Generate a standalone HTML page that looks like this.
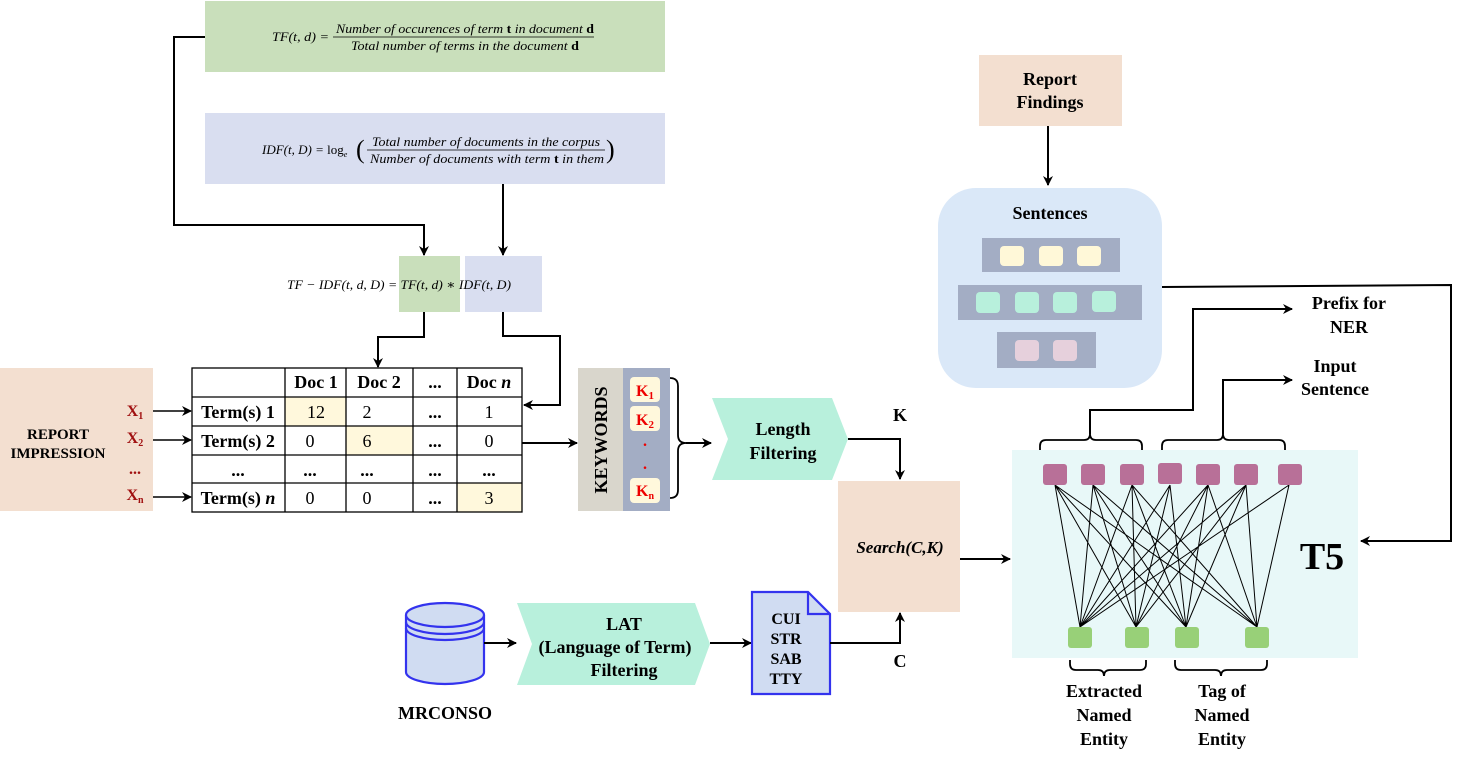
<!DOCTYPE html>
<html><head><meta charset="utf-8"><style>
body{margin:0;background:#fff}
svg text{font-family:"Liberation Serif","Times New Roman","DejaVu Serif",serif}
.b{font-weight:bold}
.i{font-style:italic}
</style></head><body>
<svg width="1462" height="752" viewBox="0 0 1462 752" xmlns="http://www.w3.org/2000/svg" font-family="Liberation Serif, serif">
<defs>
<marker id="a" markerWidth="10" markerHeight="10" refX="9" refY="5" orient="auto" markerUnits="userSpaceOnUse"><path d="M0,0 L10,5 L0,10 L3,5 z" fill="#000"/></marker>
</defs>
<g stroke="#000" stroke-width="2" fill="none">
<rect x="205" y="1" width="460" height="71" fill="#c9dfbb" stroke="none"/>
<rect x="205" y="113" width="460" height="71" fill="#d9def0" stroke="none"/>
<rect x="399" y="256" width="61" height="56" fill="#c9dfbb" stroke="none"/>
<rect x="465" y="256" width="77" height="56" fill="#d9def0" stroke="none"/>
<polyline points="205,37 174,37 174,225 424,225 424,255" marker-end="url(#a)"/>
<polyline points="503,184 503,255" marker-end="url(#a)"/>
<polyline points="424,312 424,337 378,337 378,367" marker-end="url(#a)"/>
<polyline points="503,312 503,336 560,336 560,405 524,405" marker-end="url(#a)"/>
<rect x="0" y="368" width="153" height="143" fill="#f3dfd0" stroke="none"/>
<line x1="153" y1="411" x2="191" y2="411" stroke-width="1.5" marker-end="url(#a)"/>
<line x1="153" y1="440" x2="191" y2="440" stroke-width="1.5" marker-end="url(#a)"/>
<line x1="153" y1="497" x2="191" y2="497" stroke-width="1.5" marker-end="url(#a)"/>
<rect x="285" y="397" width="61" height="29" fill="#fff8dc" stroke="none"/>
<rect x="346" y="426" width="67" height="29" fill="#fff8dc" stroke="none"/>
<rect x="457" y="483" width="65" height="29" fill="#fff8dc" stroke="none"/>
<g stroke-width="1.3">
<rect x="192" y="368" width="330" height="144"/>
<line x1="192" y1="397" x2="522" y2="397"/><line x1="192" y1="426" x2="522" y2="426"/>
<line x1="192" y1="455" x2="522" y2="455"/><line x1="192" y1="483" x2="522" y2="483"/>
<line x1="285" y1="368" x2="285" y2="512"/><line x1="346" y1="368" x2="346" y2="512"/>
<line x1="413" y1="368" x2="413" y2="512"/><line x1="457" y1="368" x2="457" y2="512"/>
</g>
<line x1="522" y1="443" x2="577" y2="443" marker-end="url(#a)"/>
<rect x="578" y="368" width="45" height="143" fill="#d9d6cc" stroke="none"/>
<rect x="623" y="368" width="47" height="143" fill="#a3adc4" stroke="none"/>
<rect x="630" y="377" width="30" height="25" rx="4" fill="#fff8dc" stroke="none"/>
<rect x="630" y="406" width="30" height="25" rx="4" fill="#fff8dc" stroke="none"/>
<rect x="630" y="478" width="30" height="25" rx="4" fill="#fff8dc" stroke="none"/>
<path d="M670,378 Q678,378 678,386 L678,435 Q678,443 686,443 Q678,443 678,451 L678,490 Q678,498 670,498" stroke-width="1.8"/>
<line x1="686" y1="443" x2="711" y2="443" marker-end="url(#a)"/>
<polygon points="712,398 832,398 848,439 832,480 712,480 728,439" fill="#b8f0dc" stroke="none"/>
<polyline points="848,439 900,439 900,479" marker-end="url(#a)"/>
<rect x="838" y="481" width="122" height="131" fill="#f3dfd0" stroke="none"/>
<line x1="960" y1="559" x2="1010" y2="559" marker-end="url(#a)"/>
<g stroke="#3333ee" stroke-width="2.2" fill="#d0dcf2">
<path d="M406,615 L406,672 A39,12 0 0 0 484,672 L484,615"/>
<ellipse cx="445" cy="615" rx="39" ry="12"/>
<path d="M406,622 A39,12 0 0 0 484,622" fill="none"/>
<path d="M406,628 A39,12 0 0 0 484,628" fill="none"/>
</g>
<line x1="484" y1="643" x2="516" y2="643" marker-end="url(#a)"/>
<polygon points="517,603 695,603 710,644 695,685 517,685 532,644" fill="#b8f0dc" stroke="none"/>
<line x1="710" y1="643" x2="751" y2="643" marker-end="url(#a)"/>
<path d="M752,592 L808,592 L830,614 L830,694 L752,694 Z" fill="#d0dcf2" stroke="#3333ee" stroke-width="2.2"/>
<path d="M808,592 L808,614 L830,614" stroke="#3333ee" stroke-width="2.2"/>
<polyline points="830,643 900,643 900,613" marker-end="url(#a)"/>
<rect x="979" y="55" width="143" height="71" fill="#f3dfd0" stroke="none"/>
<line x1="1048" y1="126" x2="1048" y2="185" marker-end="url(#a)"/>
<rect x="938" y="188" width="224" height="200" rx="38" fill="#dae8f8" stroke="none"/>
<g stroke="none">
<rect x="982" y="238" width="138" height="34" fill="#a3adc4"/>
<rect x="958" y="285" width="184" height="35" fill="#a3adc4"/>
<rect x="997" y="332" width="99" height="36" fill="#a3adc4"/>
<rect x="1000" y="246" width="24" height="20" rx="4" fill="#fff8d8"/><rect x="1039" y="246" width="24" height="20" rx="4" fill="#fff8d8"/><rect x="1077" y="246" width="24" height="20" rx="4" fill="#fff8d8"/>
<rect x="976" y="292" width="24" height="21" rx="4" fill="#b8f0dc"/><rect x="1015" y="292" width="24" height="21" rx="4" fill="#b8f0dc"/><rect x="1053" y="292" width="24" height="21" rx="4" fill="#b8f0dc"/><rect x="1092" y="291" width="24" height="21" rx="4" fill="#b8f0dc"/>
<rect x="1015" y="340" width="24" height="21" rx="4" fill="#e6d0dc"/><rect x="1053" y="340" width="24" height="21" rx="4" fill="#e6d0dc"/>
</g>
<polyline points="1162,287 1451,285 1451,541 1361,541" marker-end="url(#a)"/>
<rect x="1012" y="450" width="346" height="208" fill="#e8f8f8" stroke="none"/>
<g stroke-width="1">
<path d="M1055,485 L1080,627 M1055,485 L1136,627 M1055,485 L1186,627 M1055,485 L1257,627
M1093,485 L1080,627 M1093,485 L1136,627 M1093,485 L1186,627 M1093,485 L1257,627
M1132,485 L1080,627 M1132,485 L1136,627 M1132,485 L1186,627 M1132,485 L1257,627
M1170,485 L1080,627 M1170,485 L1136,627 M1170,485 L1186,627
M1208,485 L1080,627 M1208,485 L1136,627 M1208,485 L1186,627 M1208,485 L1257,627
M1246,485 L1080,627 M1246,485 L1136,627 M1246,485 L1186,627 M1246,485 L1257,627
M1289,485 L1080,627 M1289,485 L1257,627"/>
</g>
<g stroke="none" fill="#b87098">
<rect x="1043" y="464" width="24" height="21" rx="3"/><rect x="1081" y="464" width="24" height="21" rx="3"/><rect x="1120" y="464" width="24" height="21" rx="3"/><rect x="1158" y="463" width="24" height="21" rx="3"/><rect x="1196" y="464" width="24" height="21" rx="3"/><rect x="1234" y="464" width="24" height="21" rx="3"/><rect x="1278" y="464" width="24" height="21" rx="3"/>
</g>
<g stroke="none" fill="#98d078">
<rect x="1068" y="627" width="24" height="21" rx="3"/><rect x="1125" y="627" width="24" height="21" rx="3"/><rect x="1175" y="627" width="24" height="21" rx="3"/><rect x="1245" y="627" width="24" height="21" rx="3"/>
</g>
<g stroke-width="1.8">
<path d="M1040,450 L1040,446 Q1040,440 1046,440 L1084,440 Q1090,440 1090,434 Q1090,440 1096,440 L1136,440 Q1142,440 1142,446 L1142,450"/>
<path d="M1162,450 L1162,446 Q1162,440 1168,440 L1217,440 Q1223,440 1223,434 Q1223,440 1229,440 L1279,440 Q1285,440 1285,446 L1285,450"/>
<path d="M1070,660 L1070,664 Q1070,670 1076,670 L1098,670 Q1104,670 1104,676 Q1104,670 1110,670 L1140,670 Q1146,670 1146,664 L1146,660"/>
<path d="M1175,660 L1175,664 Q1175,670 1181,670 L1215,670 Q1221,670 1221,676 Q1221,670 1227,670 L1261,670 Q1267,670 1267,664 L1267,660"/>
</g>
<polyline points="1090,434 1090,410 1193,410 1193,309 1292,309" marker-end="url(#a)"/>
<polyline points="1223,434 1223,380 1292,380" marker-end="url(#a)"/>
</g>
<g font-size="13" class="i">
<text x="272" y="41" textLength="57" lengthAdjust="spacingAndGlyphs">TF(t, d) =</text>
<text x="336" y="33" textLength="258" lengthAdjust="spacingAndGlyphs">Number of occurences of term <tspan font-weight="bold" font-style="normal">t</tspan> in document <tspan font-weight="bold" font-style="normal">d</tspan></text>
<line x1="333" y1="37" x2="594" y2="37" stroke="#000" stroke-width="0.8"/>
<text x="351" y="50" textLength="228" lengthAdjust="spacingAndGlyphs">Total number of terms in the document <tspan font-weight="bold" font-style="normal">d</tspan></text>
<text x="262" y="154">IDF(t, D) = <tspan font-style="normal">log</tspan><tspan font-size="8" dy="3">e</tspan></text>
<text x="356" y="158" font-size="26" font-style="normal">(</text>
<text x="372" y="146" textLength="228" lengthAdjust="spacingAndGlyphs">Total number of documents in the corpus</text>
<line x1="367" y1="150" x2="605" y2="150" stroke="#000" stroke-width="0.8"/>
<text x="370" y="163" textLength="234" lengthAdjust="spacingAndGlyphs">Number of documents with term <tspan font-weight="bold" font-style="normal">t</tspan> in them</text>
<text x="606" y="158" font-size="26" font-style="normal">)</text>
<text x="287" y="289" textLength="224" lengthAdjust="spacingAndGlyphs">TF − IDF(t, d, D) = TF(t, d) ∗ IDF(t, D)</text>
</g>
<g font-size="18" class="b" text-anchor="middle">
<text x="58" y="439" font-size="15">REPORT</text>
<text x="58" y="458" font-size="15">IMPRESSION</text>
<text x="316" y="388">Doc 1</text><text x="379" y="388">Doc 2</text><text x="435" y="388">...</text><text x="489" y="388">Doc <tspan font-style="italic">n</tspan></text>
<text x="238" y="418">Term(s) 1</text><text x="238" y="447">Term(s) 2</text><text x="238" y="476">...</text><text x="238" y="504">Term(s) <tspan font-style="italic">n</tspan></text>
<text x="783" y="435">Length</text><text x="783" y="459">Filtering</text>
<text x="900" y="421">K</text><text x="900" y="667">C</text>
<text x="900" y="553" font-style="italic" font-size="17">Search(C,K)</text>
<text x="445" y="719">MRCONSO</text>
<text x="624" y="630">LAT</text><text x="615" y="653">(Language of Term)</text><text x="624" y="676">Filtering</text>
<text x="1050" y="85">Report</text><text x="1050" y="108">Findings</text>
<text x="1050" y="219">Sentences</text>
<text x="1349" y="309">Prefix for</text><text x="1349" y="333">NER</text>
<text x="1335" y="372">Input</text><text x="1335" y="395">Sentence</text>
<text x="1104" y="697">Extracted</text><text x="1104" y="721">Named</text><text x="1104" y="745">Entity</text>
<text x="1222" y="697">Tag of</text><text x="1222" y="721">Named</text><text x="1222" y="745">Entity</text>
<text x="1322" y="569" font-size="38">T5</text>
</g>
<g font-size="16" class="b" text-anchor="middle" fill="#000">
<text x="786" y="624">CUI</text><text x="786" y="644">STR</text><text x="786" y="664">SAB</text><text x="786" y="684">TTY</text>
</g>
<g font-size="18" text-anchor="middle">
<text x="316" y="418">12</text><text x="367" y="418">2</text><text x="435" y="418" class="b">...</text><text x="489" y="418">1</text>
<text x="310" y="447">0</text><text x="367" y="447">6</text><text x="435" y="447" class="b">...</text><text x="489" y="447">0</text>
<text x="310" y="476" class="b">...</text><text x="367" y="476" class="b">...</text><text x="435" y="476" class="b">...</text><text x="489" y="476" class="b">...</text>
<text x="310" y="504">0</text><text x="367" y="504">0</text><text x="435" y="504" class="b">...</text><text x="489" y="504">3</text>
</g>
<g font-size="16" class="b" fill="#a01010" text-anchor="middle">
<text x="135" y="416">X<tspan font-size="10" dy="3">1</tspan></text>
<text x="135" y="443">X<tspan font-size="10" dy="3">2</tspan></text>
<text x="135" y="474">...</text>
<text x="135" y="500">X<tspan font-size="10" dy="3">n</tspan></text>
</g>
<g font-size="16" class="b" fill="#ee0000" text-anchor="middle">
<text x="645" y="396">K<tspan font-size="11" dy="3">1</tspan></text>
<text x="645" y="425">K<tspan font-size="11" dy="3">2</tspan></text>
<text x="645" y="446">.</text><text x="645" y="469">.</text>
<text x="645" y="496">K<tspan font-size="10" dy="3">n</tspan></text>
</g>
<text transform="translate(607,440) rotate(-90)" font-size="18" class="b" text-anchor="middle">KEYWORDS</text>
</svg>
</body></html>
